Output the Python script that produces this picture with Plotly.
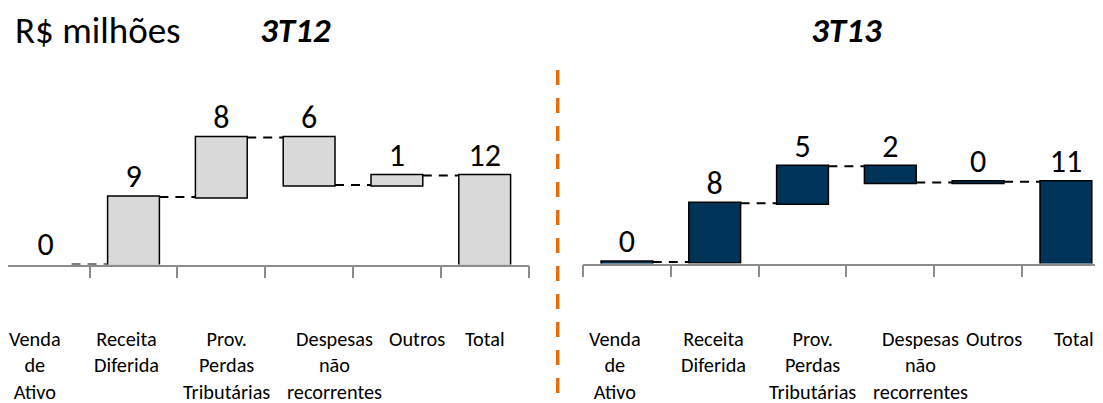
import plotly.graph_objects as go

# dados (R$ milhões)
categorias = ["Venda de Ativo", "Receita Diferida", "Prov. Perdas Tributárias",
              "Despesas não recorrentes", "Outros", "Total"]
rotulos = ["Venda<br>de<br>Ativo", "Receita<br>Diferida", "Prov.<br>Perdas<br>Tributárias",
           "Despesas<br>não<br>recorrentes", "Outros", "Total"]
medidas = ["relative", "relative", "relative", "relative", "relative", "total"]

valores_3t12 = [0.0, 9.1, 8.0, -6.4, 1.3, None]
valores_3t13 = [0.2, 7.9, 5.0, -2.2, 0.1, None]

FONTE = "Calibri, Carlito, Lato, sans-serif"
W, H = 1103, 403
OFF = 8  # margem padrão do <body> na página


def px_x(t):
    return (t - OFF) / W


def px_y(t):
    return (H - (t - OFF)) / H


def topos(valores):
    """altura do topo de cada barra (para os rótulos de valor)"""
    acum, tops, textos = 0, [], []
    for v, m in zip(valores, medidas):
        if m == "total":
            tops.append(acum)
            textos.append(str(round(acum)))
        else:
            tops.append(max(acum, acum + v))
            textos.append(str(abs(round(v))))
            acum += v
    return tops, textos


fig = go.Figure()

paineis = [
    # valores, cor, eixo, deslocamento dos rótulos (px)
    (valores_3t12, "#d9d9d9", "", [-11, -7, 5, 25, 20, 0]),
    (valores_3t13, "#003358", "2", [-12, -1, 10, 30, 16, 8]),
]

for valores, cor, ax, desloc in paineis:
    xa, ya = "x" + ax, "y" + ax
    barra = dict(marker=dict(color=cor, line=dict(color="black", width=1.5)))
    fig.add_trace(go.Waterfall(
        x=categorias, y=valores, measure=medidas,
        increasing=barra, decreasing=barra, totals=barra,
        connector=dict(mode="between", line=dict(color="black", width=2, dash="9px,7px")),
        xaxis=xa, yaxis=ya, showlegend=False, hoverinfo="skip",
    ))
    tops, textos = topos(valores)
    fig.add_trace(go.Scatter(
        x=categorias, y=tops, text=textos, mode="markers+text", textposition="top center",
        marker=dict(size=1, color="rgba(0,0,0,0)"),
        textfont=dict(family=FONTE, size=32, color="black"),
        xaxis=xa, yaxis=ya, showlegend=False, cliponaxis=False, hoverinfo="skip",
    ))
    for cat, rot, dx in zip(categorias, rotulos, desloc):
        fig.add_annotation(
            x=cat, y=px_y(325), xref=xa, yref="paper", text=rot,
            showarrow=False, xshift=dx, yanchor="top", align="center",
            font=dict(family=FONTE, size=20.3, color="black"),
        )

eixo_x = dict(type="category", tickson="boundaries", ticks="outside", ticklen=12,
              tickcolor="#8c8c8c", tickwidth=1.5, showline=True, linecolor="#8c8c8c",
              linewidth=1.5, showticklabels=False, showgrid=False, zeroline=False,
              fixedrange=True)

CAT = 87.8  # largura de uma categoria em px
fig.update_layout(
    width=W, height=H,
    margin=dict(l=0, r=0, t=0, b=0),
    plot_bgcolor="white", paper_bgcolor="white",
    waterfallgap=0.41,
    xaxis=dict(eixo_x, domain=[0, px_x(528.6)], range=[-0.5 + (OFF - 1.8) / CAT, 5.5]),
    xaxis2=dict(eixo_x, domain=[px_x(583), 1], range=[-0.5, -0.5 + (W + OFF - 583) / CAT],
                anchor="y2"),
    yaxis=dict(visible=False, domain=[px_y(264.5), 1], range=[0, (264.5 - OFF) / 7.42]),
    yaxis2=dict(visible=False, domain=[px_y(263.5), 1], range=[0, (263.5 - OFF) / 7.43],
                anchor="x2"),
)

# títulos
fig.add_annotation(x=px_x(13), y=px_y(31), xref="paper", yref="paper", text="R$ milhões",
                   showarrow=False, xanchor="left", yanchor="middle",
                   font=dict(family=FONTE, size=37, color="black"))
for txt, cx in [("<b><i>3T12</i></b>", 295), ("<b><i>3T13</i></b>", 846)]:
    fig.add_annotation(x=px_x(cx), y=px_y(29.5), xref="paper", yref="paper", text=txt,
                       showarrow=False, xanchor="center", yanchor="middle",
                       font=dict(family=FONTE, size=35, color="black"))

# linha divisória laranja
fig.add_shape(type="line", xref="paper", yref="paper",
              x0=px_x(557.7), x1=px_x(557.7), y0=px_y(70), y1=px_y(394),
              line=dict(color="#e46c0a", width=3.5, dash="15px,13px"))

fig.write_html("out.html")
